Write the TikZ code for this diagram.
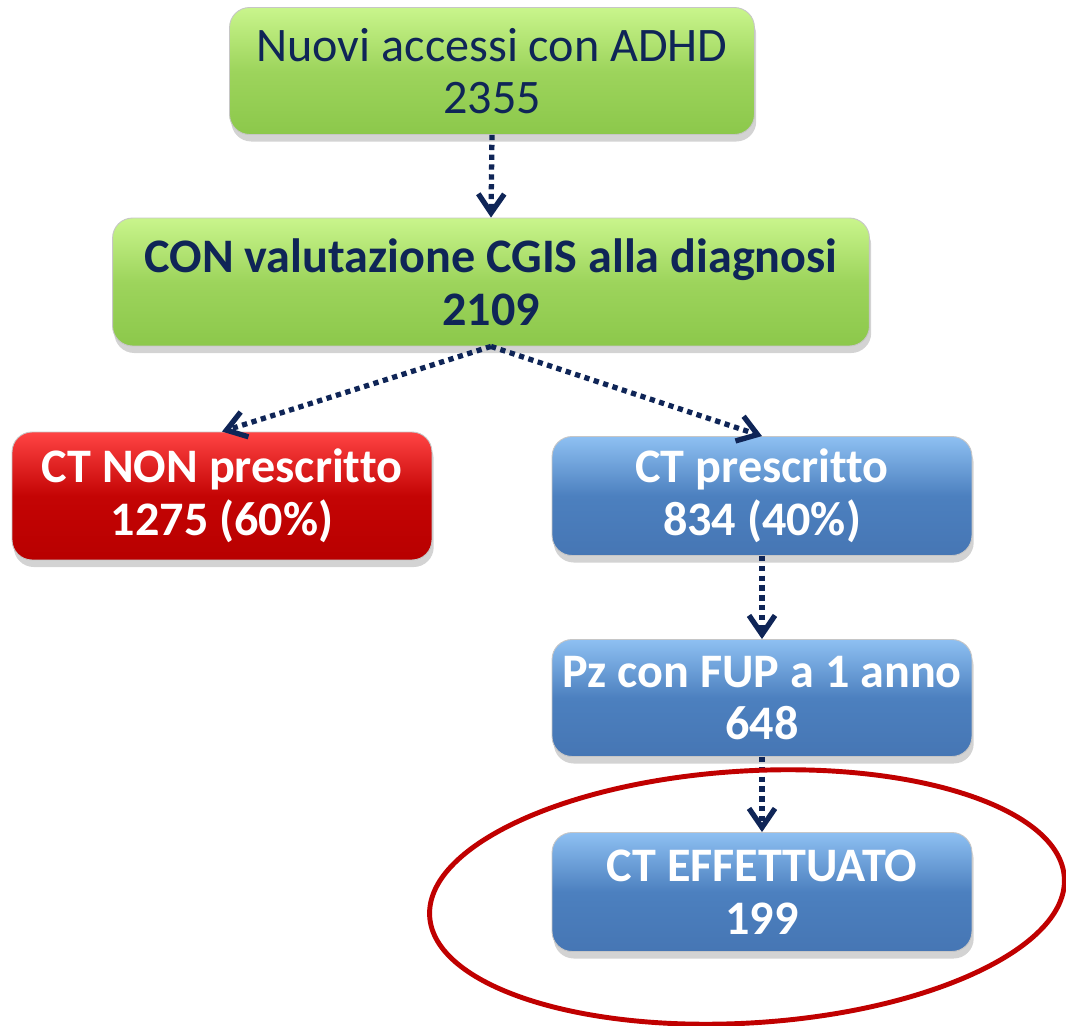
\documentclass[tikz,border=0pt]{standalone}
\usepackage{fontspec}
\setmainfont{Carlito}[Ligatures=NoCommon]
\usepackage{tikz}
\usetikzlibrary{arrows.meta,shadows}
\definecolor{navy}{HTML}{0F2557}
\definecolor{greenTop}{HTML}{C9F58C}
\definecolor{greenMid}{HTML}{9DD45C}
\definecolor{greenBot}{HTML}{8CC84B}
\definecolor{redTop}{HTML}{FF4444}
\definecolor{redMid}{HTML}{C40404}
\definecolor{redBot}{HTML}{B80000}
\definecolor{blueTop}{HTML}{8EC0F2}
\definecolor{blueMid}{HTML}{4C80BF}
\definecolor{blueBot}{HTML}{4676B4}
\definecolor{ringRed}{HTML}{C00000}

\begin{document}
\begin{tikzpicture}[x=0.02cm, y=-0.02cm, font=\fontsize{27.4}{30}\selectfont,
  box/.style={rounded corners=0.4cm, draw=gray!45, line width=0.5pt, align=center,
    inner sep=0pt, minimum width=8.4cm, minimum height=2.4cm,
    drop shadow={opacity=0.35, shadow xshift=1pt, shadow yshift=-4pt}},
  greenbox/.style={box, top color=greenTop, bottom color=greenBot, middle color=greenMid, text=navy},
  redbox/.style={box, top color=redTop, bottom color=redBot, middle color=redMid, text=white,
    font=\fontsize{27.4}{30}\selectfont\bfseries},
  bluebox/.style={box, top color=blueTop, bottom color=blueBot, middle color=blueMid, text=white,
    font=\fontsize{27.4}{30}\selectfont\bfseries},
  flow/.style={navy, line width=3pt, dash pattern=on 3pt off 2.6pt,
    -{Straight Barb[length=0.38cm, width=0.52cm]}}]
  \useasboundingbox (0,0) rectangle (1066,1026);

  % top of the flow
  \node[greenbox, minimum width=10.5cm, minimum height=2.54cm] (access) at (492,71) {Nuovi accessi con ADHD\\2355};
  \node[greenbox, minimum width=15.14cm, minimum height=2.56cm, font=\fontsize{27.4}{30}\selectfont\bfseries]
    (cgis) at (491,282) {CON valutazione CGIS alla diagnosi\\2109};

  % the two branches
  \node[redbox, minimum height=2.56cm] (nonpresc) at (222,496) {CT NON prescritto\\1275 (60\%)};
  \node[bluebox, minimum height=2.38cm] (presc) at (762,496) {CT prescritto\\834 (40\%)};
  \node[bluebox, minimum height=2.34cm] (fup) at (762,698) {Pz con FUP a 1 anno\\648};
  \node[bluebox, minimum height=2.38cm] (done) at (762,892) {CT EFFETTUATO\\199};

  % dotted connectors
  \draw[flow] (access.south) -- (cgis.north);
  \draw[flow] (cgis.south) -- (nonpresc.north);
  \draw[flow] (cgis.south) -- (presc.north);
  \draw[flow] (presc.south) -- (fup.north);
  \draw[flow] (fup.south) -- (done.north);

  % ring round the last box
  \draw[ringRed, line width=2.8pt] (747,897) ellipse [x radius=6.36cm, y radius=2.52cm, rotate=3.5];
\end{tikzpicture}
\end{document}
